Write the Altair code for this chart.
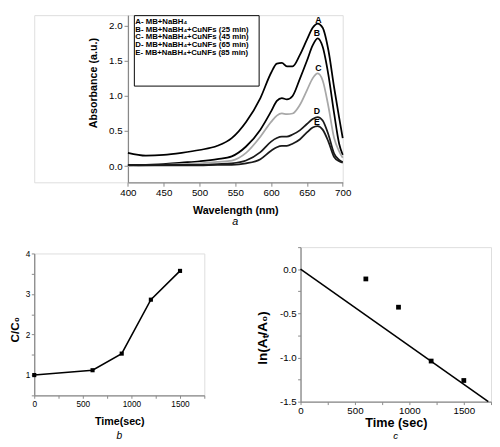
import altair as alt
import pandas as pd

FONT = "Liberation Sans"

# ---------------- Panel a: UV-vis spectra ----------------
wavelength = [400, 425, 450, 475, 500, 525, 545, 565, 585, 600, 608, 615, 622, 630,
              640, 650, 658, 665, 672, 680, 688, 695, 700]
abs_A = [0.19, 0.15, 0.16, 0.19, 0.23, 0.29, 0.40, 0.63, 0.97, 1.33, 1.46, 1.47, 1.42, 1.42,
         1.58, 1.80, 1.97, 2.03, 1.97, 1.65, 1.12, 0.69, 0.40]
abs_B = [0.01, 0.02, 0.03, 0.05, 0.07, 0.10, 0.14, 0.28, 0.52, 0.78, 0.93, 0.97, 0.95, 1.00,
         1.24, 1.50, 1.72, 1.82, 1.70, 1.30, 0.75, 0.32, 0.16]
abs_C = [0.00, 0.01, 0.02, 0.03, 0.04, 0.06, 0.08, 0.19, 0.42, 0.63, 0.72, 0.75, 0.74, 0.75,
         0.87, 1.08, 1.25, 1.32, 1.22, 0.85, 0.40, 0.21, 0.12]
abs_D = [0.02, 0.02, 0.02, 0.02, 0.02, 0.03, 0.04, 0.08, 0.20, 0.35, 0.40, 0.42, 0.42, 0.45,
         0.51, 0.60, 0.67, 0.70, 0.65, 0.45, 0.18, 0.09, 0.06]
abs_E = [0.02, 0.01, 0.01, 0.01, 0.01, 0.02, 0.02, 0.04, 0.10, 0.22, 0.27, 0.29, 0.29, 0.32,
         0.38, 0.48, 0.55, 0.57, 0.52, 0.35, 0.13, 0.07, 0.05]
series_names = ["A- MB+NaBH₄",
                "B- MB+NaBH₄+CuNFs (25 min)",
                "C- MB+NaBH₄+CuNFs (45 min)",
                "D- MB+NaBH₄+CuNFs (65 min)",
                "E- MB+NaBH₄+CuNFs (85 min)"]
series_colors = ["#000000", "#000000", "#a8a8a8", "#1a1a1a", "#1a1a1a"]
curve_letters = ["A", "B", "C", "D", "E"]
letter_x = [666, 664, 666, 664, 664]
letter_y = [2.08, 1.89, 1.40, 0.79, 0.63]

# ---------------- Panel b: C/C0 vs time ----------------
time_b = [0, 600, 900, 1200, 1500]
ratio_b = [1.0, 1.12, 1.53, 2.86, 3.57]

# ---------------- Panel c: ln(At/A0) vs time ----------------
time_c = [600, 900, 1200, 1500]
ln_c = [-0.11, -0.43, -1.04, -1.26]
fit_t = [0, 1725]
fit_y = [0.0, -1.5]

# ---------- build tables ----------
rows = []
for name, vals in zip(series_names, [abs_A, abs_B, abs_C, abs_D, abs_E]):
    for w, v in zip(wavelength, vals):
        rows.append({"wl": w, "abs": v, "series": name})
df_a = pd.DataFrame(rows)
df_letters = pd.DataFrame({"wl": letter_x, "abs": letter_y, "t": curve_letters})
df_b = pd.DataFrame({"t": time_b, "r": ratio_b})
df_c = pd.DataFrame({"t": time_c, "y": ln_c})
df_fit = pd.DataFrame({"t": fit_t, "y": fit_y})

# panel a plot area starts A_OFF px to the right of panel b's left edge
A_OFF = 96.4
W_A, H_A = 221, 172
W_B, H_B = 175, 146
W_C, H_C = 196, 159

ax_a = dict(tickSize=4, tickWidth=1, domainWidth=1.3, labelPadding=2, labelFlush=False,
            labelOverlap=False, grid=False)
ax_bc = dict(tickSize=3, tickWidth=1, domainWidth=1.3, labelPadding=1.5, labelFlush=False,
             labelOverlap=False, grid=False)

# ---- panel a ----
xa = alt.X("wl:Q", scale=alt.Scale(domain=[400, 700], range=[A_OFF, A_OFF + W_A],
                                   nice=False, zero=False),
           axis=alt.Axis(values=list(range(400, 701, 25)),
                         labelExpr="datum.value % 50 == 0 ? format(datum.value, 'd') : ''",
                         title="Wavelength (nm)", titleFontSize=11, titleY=29,
                         titleX=A_OFF + W_A / 2, titleAnchor="middle",
                         titleBaseline="middle", labelFontSize=10, **ax_a))
ya = alt.Y("abs:Q", scale=alt.Scale(domain=[-0.23, 2.15], nice=False, zero=False),
           axis=alt.Axis(values=[0, 0.25, 0.5, 0.75, 1.0, 1.25, 1.5, 1.75, 2.0],
                         labelExpr="datum.value % 0.5 == 0 ? format(datum.value, '.1f') : ''",
                         title="Absorbance (a.u.)", titleFontSize=11, titleX=-35.7, titleY=69.5,
                         titleBaseline="middle", labelFontSize=10, offset=-A_OFF, **ax_a))

# legend frame (decoration, pixel box inside panel a)
frame_a = alt.Chart(pd.DataFrame({"f": [0]})).mark_rect(
    fill="white", stroke="black", strokeWidth=1).encode(
    x=alt.value(A_OFF + 6.6), x2=alt.value(A_OFF + 135), y=alt.value(0.5), y2=alt.value(73))

lines_a = alt.Chart(df_a).mark_line(strokeWidth=1.8, interpolate="monotone").encode(
    x=xa, y=ya,
    color=alt.Color("series:N",
                    scale=alt.Scale(domain=series_names, range=series_colors),
                    legend=alt.Legend(orient="none", legendX=93, legendY=0,
                                      title=None, padding=3,
                                      symbolSize=0, symbolStrokeWidth=0,
                                      symbolOpacity=0, labelOffset=0, labelFont=FONT,
                                      labelFontSize=8, labelFontWeight="bold",
                                      labelColor="black", rowPadding=-0.5, labelLimit=300)),
    detail="series:N",
)
letters_a = alt.Chart(df_letters).mark_text(font=FONT, fontSize=9, fontWeight="bold",
                                            color="black").encode(
    x=alt.X("wl:Q"), y=alt.Y("abs:Q"), text="t:N")
tag_a = alt.Chart(pd.DataFrame({"t": ["a"]})).mark_text(
    font=FONT, fontSize=11, fontStyle="italic", color="black").encode(
    x=alt.value(A_OFF + W_A / 2), y=alt.value(H_A + 40.7), text="t:N")
chart_a = alt.layer(frame_a, lines_a, letters_a, tag_a).properties(
    width=A_OFF + W_A, height=H_A)

# ---- panel b ----
xb = alt.X("t:Q", scale=alt.Scale(domain=[0, 1750], nice=False),
           axis=alt.Axis(values=list(range(0, 1751, 250)),
                         labelExpr="datum.value % 500 == 0 ? format(datum.value, 'd') : ''",
                         title="Time(sec)", titleFontSize=11, titleY=27.5,
                         titleBaseline="middle", labelFontSize=8.5, **ax_bc))
yb = alt.Y("r:Q", scale=alt.Scale(domain=[0.5, 4], nice=False, zero=False),
           axis=alt.Axis(values=[0.5, 1, 1.5, 2, 2.5, 3, 3.5, 4],
                         labelExpr="datum.value % 1 == 0 ? format(datum.value, 'd') : ''",
                         title="C/C₀", titleFontSize=12, titleX=-20, titleY=78,
                         titleBaseline="middle", labelFontSize=8.5, **ax_bc))
base_b = alt.Chart(df_b).encode(x=xb, y=yb)
line_b = base_b.mark_line(color="black", strokeWidth=1.6)
pts_b = base_b.mark_point(shape="square", filled=True, color="black", size=18, opacity=1)
tag_b = alt.Chart(pd.DataFrame({"t": ["b"]})).mark_text(
    font=FONT, fontSize=10.5, fontStyle="italic", color="black").encode(
    x=alt.value(W_B / 2), y=alt.value(H_B + 41.5), text="t:N")
chart_b = alt.layer(line_b, pts_b, tag_b).properties(width=W_B, height=H_B)

# ---- panel c ----
xc = alt.X("t:Q", scale=alt.Scale(domain=[0, 1750], nice=False),
           axis=alt.Axis(values=list(range(0, 1751, 250)),
                         labelExpr="datum.value % 500 == 0 ? format(datum.value, 'd') : ''",
                         title="Time (sec)", titleFontSize=13, titleY=21.8,
                         titleBaseline="middle", labelFontSize=10, **ax_bc))
yc = alt.Y("y:Q", scale=alt.Scale(domain=[-1.5, 0.25], nice=False, zero=False),
           axis=alt.Axis(values=[-1.5, -1.25, -1.0, -0.75, -0.5, -0.25, 0.0, 0.25],
                         labelExpr="datum.value % 0.5 == 0 ? replace(format(datum.value, '.1f'), '−', '-') : ''",
                         title="ln(Aₜ/A₀)", titleFontSize=14, titleX=-39, titleY=93,
                         titleBaseline="middle", labelFontSize=10, **ax_bc))
fit_c = alt.Chart(df_fit).mark_line(color="black", strokeWidth=1.6).encode(x=xc, y=yc)
pts_c = alt.Chart(df_c).mark_point(shape="square", filled=True, color="black",
                                   size=24, opacity=1).encode(x=xc, y=yc)
tag_c = alt.Chart(pd.DataFrame({"t": ["c"]})).mark_text(
    font=FONT, fontSize=10, fontStyle="italic", color="black").encode(
    x=alt.value(W_C / 2), y=alt.value(H_C + 35.3), text="t:N")
chart_c = alt.layer(fit_c, pts_c, tag_c).properties(width=W_C, height=H_C)

bottom_row = alt.hconcat(chart_b, chart_c, spacing=99, bounds="flush", center=True)

chart = alt.vconcat(chart_a, bottom_row, spacing=66.7, bounds="flush").properties(
    padding=0
).configure_view(stroke=None).configure_axis(
    labelFont=FONT, labelFontWeight="bold", labelColor="black",
    titleFont=FONT, titleFontWeight="bold", titleColor="black",
    domainColor="black", tickColor="black",
).configure(background="white")

chart.save("out.html", embed_options={"renderer": "svg", "actions": False})
